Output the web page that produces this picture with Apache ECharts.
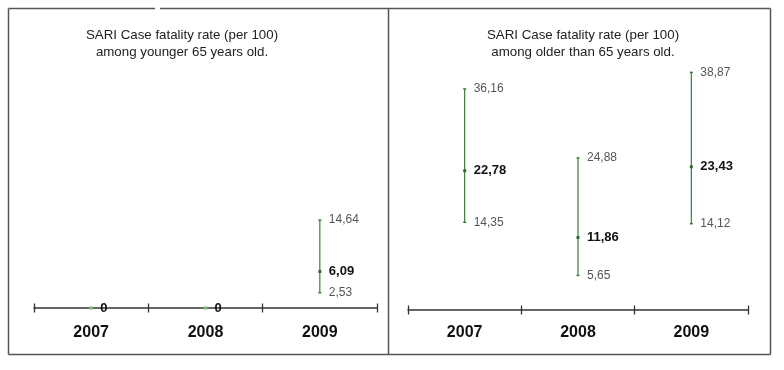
<!DOCTYPE html>
<html>
<head>
<meta charset="utf-8">
<script src="https://cdn.jsdelivr.net/npm/echarts@6/dist/echarts.min.js"></script>
<style>
html,body{margin:0;padding:0;background:#fff;}
#chart{width:784px;height:370px;}
</style>
</head>
<body>
<div id="chart"></div>
<script>
const years = ['2007', '2008', '2009'];
const youngMean = [0, 0, 6.09];
const youngLow = [null, null, 2.53];
const youngHigh = [null, null, 14.64];
const oldMean = [22.78, 11.86, 23.43];
const oldLow = [14.35, 5.65, 14.12];
const oldHigh = [36.16, 24.88, 38.87];
const titles = [
  'SARI Case fatality rate (per 100)\namong younger 65 years old.',
  'SARI Case fatality rate (per 100)\namong older than 65 years old.'
];

const FONT = '"Liberation Sans", Arial, sans-serif';
const GREEN = '#3a7d3a';

function fmt(v) {
  if (v === 0) return '0';
  return v.toFixed(2).replace('.', ',');
}

function buildData(mean, low, high) {
  return years.map((y, i) => [i, mean[i], low[i] == null ? '-' : low[i], high[i] == null ? '-' : high[i]]);
}

function renderItem(params, api) {
  const idx = api.value(0);
  const mean = api.value(1);
  const low = api.value(2);
  const high = api.value(3);
  const pm = api.coord([idx, mean]);
  const x = pm[0];
  const children = [];
  const hasBar = !isNaN(low) && !isNaN(high);
  if (hasBar) {
    const pl = api.coord([idx, low]);
    const ph = api.coord([idx, high]);
    children.push({type: 'line', shape: {x1: x, y1: pl[1], x2: x, y2: ph[1]}, style: {stroke: GREEN, lineWidth: 1.2}});
    children.push({type: 'line', shape: {x1: x - 1.5, y1: pl[1], x2: x + 1.5, y2: pl[1]}, style: {stroke: GREEN, lineWidth: 1.5}});
    children.push({type: 'line', shape: {x1: x - 1.5, y1: ph[1], x2: x + 1.5, y2: ph[1]}, style: {stroke: GREEN, lineWidth: 1.5}});
    children.push({type: 'text', x: x + 9, y: ph[1], style: {text: fmt(high), fill: '#555', font: '12px ' + FONT, verticalAlign: 'middle', align: 'left'}});
    children.push({type: 'text', x: x + 9, y: pl[1], style: {text: fmt(low), fill: '#555', font: '12px ' + FONT, verticalAlign: 'middle', align: 'left'}});
    children.push({type: 'rect', shape: {x: x - 1.5, y: pm[1] - 1.5, width: 3, height: 3}, style: {fill: '#2f6a2f'}});
  } else {
    children.push({type: 'rect', shape: {x: x - 2, y: pm[1] - 1.5, width: 4, height: 3}, style: {fill: '#7fb07f'}});
  }
  children.push({type: 'text', x: x + 9, y: pm[1], style: {text: fmt(mean), fill: '#111', font: 'bold 13px ' + FONT, verticalAlign: 'middle', align: 'left'}});
  return {type: 'group', children: children};
}

function xAxes(gridIndex, margin) {
  return [
    {
      type: 'category', gridIndex: gridIndex, data: years, boundaryGap: true,
      axisLine: {show: true, lineStyle: {color: '#333', width: 1.5}},
      axisTick: {show: true, length: 4.5, lineStyle: {color: '#333', width: 1.3}},
      axisLabel: {show: true, margin: margin, fontFamily: FONT, fontSize: 16, fontWeight: 'bold', color: '#111'},
      splitLine: {show: false}
    },
    {
      type: 'category', gridIndex: gridIndex, data: years, boundaryGap: true, position: 'bottom',
      axisLine: {show: false},
      axisTick: {show: true, inside: true, length: 4.5, lineStyle: {color: '#333', width: 1.3}},
      axisLabel: {show: false},
      splitLine: {show: false}
    }
  ];
}

const chart = echarts.init(document.getElementById('chart'), null, {renderer: 'canvas'});
chart.setOption({
  animation: false,
  backgroundColor: '#fff',
  title: [
    {text: titles[0], left: 177, top: 22, textAlign: 'center',
     textStyle: {fontFamily: FONT, fontSize: 13.3, fontWeight: 'normal', color: '#222', lineHeight: 17}},
    {text: titles[1], left: 578, top: 22, textAlign: 'center',
     textStyle: {fontFamily: FONT, fontSize: 13.3, fontWeight: 'normal', color: '#222', lineHeight: 17}}
  ],
  grid: [
    {left: 34, width: 343, top: 68, bottom: 62},
    {left: 408, width: 340, top: 65.5, bottom: 60}
  ],
  xAxis: [].concat(xAxes(0, 17), xAxes(1, 15)),
  yAxis: [
    {type: 'value', gridIndex: 0, min: 0, max: 40, show: false},
    {type: 'value', gridIndex: 1, min: 0, max: 40, show: false}
  ],
  series: [
    {type: 'custom', xAxisIndex: 0, yAxisIndex: 0, renderItem: renderItem, clip: false,
     encode: {x: 0, y: 1}, data: buildData(youngMean, youngLow, youngHigh)},
    {type: 'custom', xAxisIndex: 2, yAxisIndex: 1, renderItem: renderItem, clip: false,
     encode: {x: 0, y: 1}, data: buildData(oldMean, oldLow, oldHigh)}
  ],
  graphic: [
    {type: 'line', shape: {x1: 8.5, y1: 8.5, x2: 155, y2: 8.5}, style: {stroke: '#555', lineWidth: 1.5}},
    {type: 'line', shape: {x1: 160, y1: 8.5, x2: 770.5, y2: 8.5}, style: {stroke: '#555', lineWidth: 1.5}},
    {type: 'line', shape: {x1: 8.5, y1: 8.5, x2: 8.5, y2: 354.5}, style: {stroke: '#555', lineWidth: 1.5}},
    {type: 'line', shape: {x1: 770.5, y1: 8.5, x2: 770.5, y2: 354.5}, style: {stroke: '#555', lineWidth: 1.5}},
    {type: 'line', shape: {x1: 8.5, y1: 354.5, x2: 770.5, y2: 354.5}, style: {stroke: '#555', lineWidth: 1.5}},
    {type: 'line', shape: {x1: 388.5, y1: 8.5, x2: 388.5, y2: 354.5}, style: {stroke: '#555', lineWidth: 1.5}}
  ]
});
</script>
</body>
</html>
